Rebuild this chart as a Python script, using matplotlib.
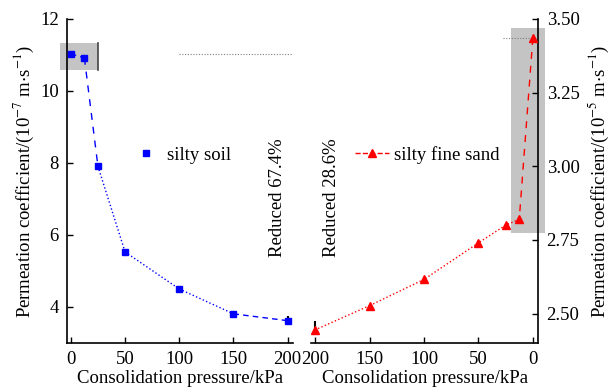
import numpy as np
import matplotlib
matplotlib.use('Agg')
import matplotlib.pyplot as plt
from matplotlib.lines import Line2D
from matplotlib.patches import Rectangle

plt.rcParams['font.family'] = ['Liberation Serif', 'DejaVu Serif']
plt.rcParams['mathtext.fontset'] = 'stix'
plt.rcParams['font.size'] = 13.5

# silty soil (left panel), permeation in 10^-7 m/s
soil_pressure = [0, 12.5, 25, 50, 100, 150, 200]
soil_perm = [11.03, 10.92, 7.91, 5.53, 4.50, 3.81, 3.62]
soil_err = [0, 0, 0, 0, 0, 0, 0.13]
soil_styles = [(0, (4, 3)), (0, (5, 5)), ':', ':', ':', (0, (4, 3))]

# silty fine sand (right panel), permeation in 10^-5 m/s
sand_pressure = [0, 12.5, 25, 50, 100, 150, 200]
sand_perm = [3.435, 2.82, 2.80, 2.74, 2.616, 2.527, 2.445]
sand_err = [0, 0, 0, 0, 0, 0, 0.03]
sand_styles = [(0, (5, 5)), ':', ':', ':', ':', ':']

soil_reduction = 'Reduced 67.4%'
sand_reduction = 'Reduced 28.6%'

fig = plt.figure(figsize=(6.11, 3.87), dpi=100)
ax1 = fig.add_axes([0.1097, 0.1137, 0.3700, 0.8373])
ax2 = fig.add_axes([0.5090, 0.1137, 0.3720, 0.8373])

# ---- left panel
ax1.add_patch(Rectangle((-10, 10.59), 35, 0.75, facecolor='#c4c4c4', edgecolor='none',
                        clip_on=False, zorder=0))
ax1.plot([25, 25], [10.59, 11.34], color='#444444', lw=1.2, zorder=1)
for i in range(len(soil_pressure) - 1):
    ax1.plot(soil_pressure[i:i + 2], soil_perm[i:i + 2], color='blue', lw=1.0,
             linestyle=soil_styles[i], zorder=2)
ax1.errorbar(soil_pressure, soil_perm, yerr=[np.zeros(len(soil_err)), soil_err],
             fmt='none', ecolor='black', elinewidth=1.5, capsize=0, zorder=2)
ax1.plot(soil_pressure, soil_perm, 's', color='blue', markersize=5, zorder=3)
ax1.plot([100, 205], [soil_perm[0], soil_perm[0]], color='gray', lw=0.8,
         linestyle=(0, (1, 1.5)), clip_on=False)

ax1.set_xlim(-3.5, 205)
ax1.set_ylim(3, 12)
ax1.set_xticks([0, 50, 100, 150, 200])
ax1.set_yticks([4, 6, 8, 10, 12])
ax1.spines['top'].set_visible(False)
ax1.spines['right'].set_visible(False)
ax1.tick_params(direction='in', length=4, width=1, pad=6)
ax1.set_xlabel('Consolidation pressure/kPa', labelpad=1)
ax1.set_ylabel(r'Permeation coefficient/(10$^{-7}$ m$\cdot$s$^{-1}$)', labelpad=3)

# ---- right panel
ax2.add_patch(Rectangle((-11, 2.773), 31, 0.697, facecolor='#c4c4c4', edgecolor='none',
                        clip_on=False, zorder=0))
for i in range(len(sand_pressure) - 1):
    ax2.plot(sand_pressure[i:i + 2], sand_perm[i:i + 2], color='red', lw=1.0,
             linestyle=sand_styles[i], zorder=2)
ax2.errorbar(sand_pressure, sand_perm, yerr=[np.zeros(len(sand_err)), sand_err],
             fmt='none', ecolor='black', elinewidth=1.5, capsize=0, zorder=2)
ax2.plot(sand_pressure, sand_perm, '^', color='red', markersize=5.5, zorder=3)
ax2.plot([27, 2], [sand_perm[0], sand_perm[0]], color='gray', lw=0.8,
         linestyle=(0, (1, 1.5)))

ax2.set_xlim(204, -5)
ax2.set_ylim(2.4, 3.5)
ax2.set_xticks([200, 150, 100, 50, 0])
ax2.set_yticks([2.5, 2.75, 3.0, 3.25, 3.5])
ax2.set_yticklabels(['2.50', '2.75', '3.00', '3.25', '3.50'])
ax2.yaxis.tick_right()
ax2.yaxis.set_label_position('right')
ax2.spines['top'].set_visible(False)
ax2.spines['left'].set_visible(False)
ax2.tick_params(direction='in', length=4, width=1, pad=6)
ax2.set_xlabel('Consolidation pressure/kPa', labelpad=1)
ax2.set_ylabel(r'Permeation coefficient/(10$^{-5}$ m$\cdot$s$^{-1}$)', rotation=90,
               labelpad=5)

for ax in (ax1, ax2):
    for s in ax.spines.values():
        s.set_linewidth(1.2)

# legends
h1 = [Line2D([], [], marker='s', ls='none', color='blue', markersize=5)]
ax1.legend(h1, ['silty soil'], loc='center left', bbox_to_anchor=(0.224, 0.5995),
           bbox_transform=fig.transFigure, frameon=False, borderpad=0, borderaxespad=0,
           handlelength=1.0, handletextpad=0.6, fontsize=13.5)
h2 = [Line2D([], [], marker='^', ls='--', color='red', markersize=5.5, lw=1.0)]
ax2.legend(h2, ['silty fine sand'], loc='center left', bbox_to_anchor=(0.581, 0.5995),
           bbox_transform=fig.transFigure, frameon=False, borderpad=0, borderaxespad=0,
           handlelength=1.8, handletextpad=0.3, fontsize=13.5)

# reduction notes
fig.text(277 / 611, 1 - 198 / 387, soil_reduction, rotation=90, ha='center', va='center')
fig.text(332 / 611, 1 - 198 / 387, sand_reduction, rotation=90, ha='center', va='center')

fig.savefig('out.png', dpi=100)
